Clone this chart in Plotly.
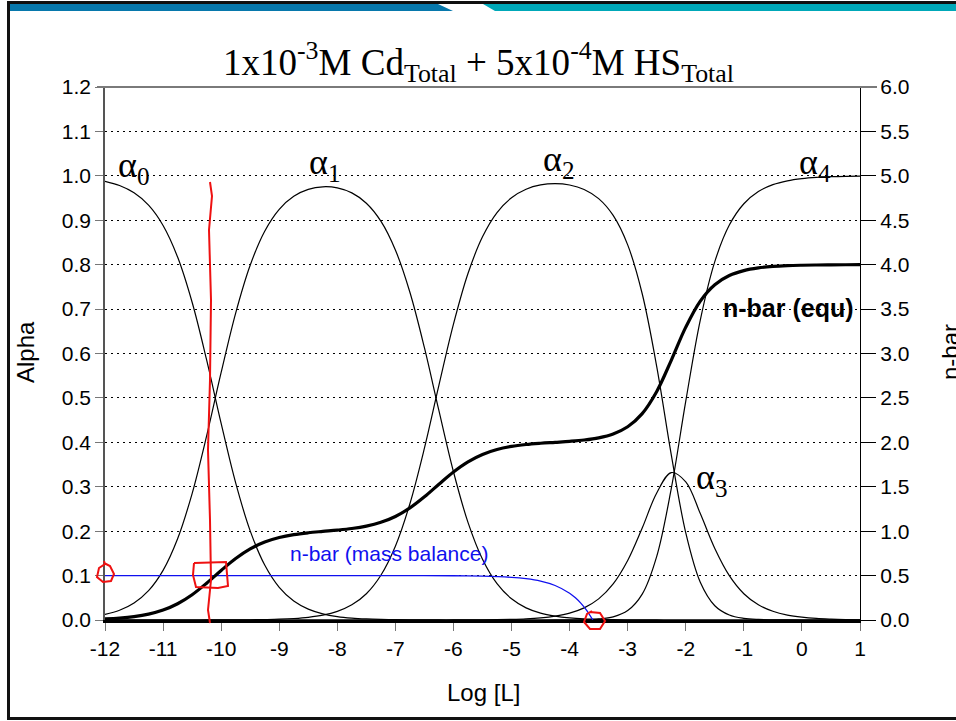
import plotly.graph_objects as go

# ---------------- data ----------------
LOGL = [-12, -11.75, -11.5, -11.25, -11, -10.75, -10.5, -10.25, -10,
        -9.75, -9.5, -9.25, -9, -8.75, -8.5, -8.25, -8,
        -7.75, -7.5, -7.25, -7, -6.75, -6.5, -6.25, -6,
        -5.75, -5.5, -5.25, -5, -4.75, -4.5, -4.25, -4,
        -3.75, -3.5, -3.25, -3, -2.75, -2.5, -2.25, -2,
        -1.75, -1.5, -1.25, -1, -0.75, -0.5, -0.25, 0,
        0.25, 0.5, 0.75, 1]

ALPHA0 = [.9876, .9781, .9617, .9339, .8882, .8171, .7153, .5855, .4426,
          .3087, .2007, .1237, .0735, .0426, .0244, .0138, .0077,
          .0043, .0024, .0013, .0007, .0003, .0002, .0001, 0,
          0, 0, 0, 0, 0, 0, 0, 0,
          0, 0, 0, 0, 0, 0, 0, 0,
          0, 0, 0, 0, 0, 0, 0, 0,
          0, 0, 0, 0]
ALPHA1 = [.0124, .0219, .0383, .0661, .1118, .1829, .2847, .4145, .5573,
          .6911, .7988, .8754, .9247, .9540, .9695, .9753, .9729,
          .9616, .9384, .8980, .8331, .7379, .6130, .4712, .3338,
          .2198, .1368, .0818, .0477, .0273, .0155, .0088, .0049,
          .0027, .0015, .0008, .0004, .0002, .0001, 0, 0,
          0, 0, 0, 0, 0, 0, 0, 0,
          0, 0, 0, 0]
ALPHA2 = [0, 0, 0, 0, 0, 0, 0, .0001, .0001,
          .0002, .0005, .0010, .0018, .0034, .0061, .0109, .0194,
          .0341, .0592, .1008, .1662, .2618, .3868, .5287, .6660,
          .7800, .8628, .9174, .9508, .9699, .9795, .9824, .9793,
          .9692, .9486, .9108, .8445, .7345, .5706, .3724, .1962,
          .0850, .0321, .0112, .0037, .0012, .0004, .0001, 0,
          0, 0, 0, 0]
ALPHA3 = [0, 0, 0, 0, 0, 0, 0, 0, 0,
          0, 0, 0, 0, 0, 0, 0, 0,
          0, 0, 0, 0, 0, 0, 0, .0001,
          .0002, .0004, .0008, .0015, .0027, .0049, .0088, .0155,
          .0273, .0475, .0812, .1339, .2070, .2860, .3319, .3110,
          .2396, .1610, .0998, .0591, .0342, .0196, .0111, .0063,
          .0035, .0020, .0011, .0006]
ALPHA4 = [0, 0, 0, 0, 0, 0, 0, 0, 0,
          0, 0, 0, 0, 0, 0, 0, 0,
          0, 0, 0, 0, 0, 0, 0, 0,
          0, 0, 0, 0, 0, 0, .0001, .0002,
          .0008, .0024, .0072, .0212, .0583, .1433, .2958, .4928,
          .6754, .8069, .8891, .9371, .9646, .9801, .9888, .9937,
          .9965, .9980, .9989, .9994]
NBAR_EQU = [.0124, .0219, .0383, .0661, .1118, .1829, .2848, .4146, .5575,
            .6916, .7999, .8773, .9284, .9608, .9818, .9972, 1.0117,
            1.0298, 1.0569, 1.0995, 1.1656, 1.2615, 1.3867, 1.5287, 1.6662,
            1.7804, 1.8637, 1.9190, 1.9539, 1.9754, 1.9894, 2.0002, 2.0111,
            2.0261, 2.0508, 2.0948, 2.1759, 2.3235, 2.5726, 2.9234, 3.2966,
            3.5903, 3.7748, 3.8779, 3.9334, 3.9634, 3.9797, 3.9887, 3.9937,
            3.9965, 3.9980, 3.9989, 3.9994]

MB_LOGL = [-12, -11, -10, -9, -8, -7, -6, -5.5, -5, -4.75, -4.5, -4.25, -4, -3.9, -3.8, -3.7, -3.6]
MB_NBAR = [.5, .5, .5, .5, .5, .4998, .498, .4937, .4801, .4646, .4371, .3881, .3010,
           .2495, .1846, .1030, 0]

ALPHA_TICKS = [0.0, 0.1, 0.2, 0.3, 0.4, 0.5, 0.6, 0.7, 0.8, 0.9, 1.0, 1.1, 1.2]
NBAR_TICKS = [0.0, 0.5, 1.0, 1.5, 2.0, 2.5, 3.0, 3.5, 4.0, 4.5, 5.0, 5.5, 6.0]
X_TICKS = [-12, -11, -10, -9, -8, -7, -6, -5, -4, -3, -2, -1, 0, 1]
X_TICKTEXT = ["-12", "-11", "-10", "-9", "-8", "-7", "-6", "-5", "-4", "-3", "-2", "-1", "0", "1"]

# ---------------- layout geometry ----------------
W, H = 956, 721
L, R, T, B = 105, 96, 87, 101
PW, PH = W - L - R, H - T - B


def px(x):
    return (x - L) / PW


def py(y):
    return (H - B - y) / PH


def path_px(points, close=False):
    s = "M " + " L ".join(f"{px(a):.5f},{py(b):.5f}" for a, b in points)
    return s + (" Z" if close else "")


SANS = "Arial, Liberation Sans, sans-serif"
SERIF = "Times New Roman, Liberation Serif, serif"
DOT = "1.5px,4.5px"

fig = go.Figure()
for ys in (ALPHA0, ALPHA1, ALPHA2, ALPHA3, ALPHA4):
    fig.add_trace(go.Scatter(x=LOGL, y=ys, mode="lines", line=dict(color="black", width=1.2,
                             shape="spline", smoothing=1.0), hoverinfo="skip", showlegend=False))
fig.add_trace(go.Scatter(x=MB_LOGL, y=MB_NBAR, yaxis="y2", mode="lines",
                         line=dict(color="#1010ee", width=1.3, shape="spline", smoothing=0.6),
                         showlegend=False))
fig.add_trace(go.Scatter(x=LOGL, y=NBAR_EQU, yaxis="y2", mode="lines",
                         line=dict(color="black", width=3.2, shape="spline", smoothing=1.0),
                         showlegend=False))

shapes = []
# slide frame and banner
shapes.append(dict(type="path", xref="paper", yref="paper", layer="above",
                   path=path_px([(7, 1), (956, 1), (956, 4), (7, 4)], True),
                   fillcolor="#101010", line=dict(width=0)))
shapes.append(dict(type="path", xref="paper", yref="paper", layer="above",
                   path=path_px([(7, 4), (438, 4), (453, 11), (7, 11)], True),
                   fillcolor="#0778ac", line=dict(width=0)))
shapes.append(dict(type="path", xref="paper", yref="paper", layer="above",
                   path=path_px([(483, 4), (956, 4), (956, 11), (495, 11)], True),
                   fillcolor="#00a8b8", line=dict(width=0)))
shapes.append(dict(type="path", xref="paper", yref="paper", layer="above",
                   path=path_px([(7, 1), (10, 1), (10, 720), (7, 720)], True),
                   fillcolor="#111111", line=dict(width=0)))
shapes.append(dict(type="path", xref="paper", yref="paper", layer="above",
                   path=path_px([(7, 717), (956, 717), (956, 720), (7, 720)], True),
                   fillcolor="#111111", line=dict(width=0)))
# top border of plot
shapes.append(dict(type="line", xref="paper", yref="paper", x0=px(97), x1=px(877), y0=1, y1=1,
                   line=dict(color="#7a7a7a", width=2), layer="above"))
# red hand-drawn marks
red = dict(color="#ee1111", width=2)
shapes.append(dict(type="path", xref="paper", yref="paper", layer="above", line=red,
                   path=path_px([(210, 182), (212, 196), (209, 230), (211, 300), (210, 380),
                                 (208, 450), (210, 520), (211, 580), (208, 610), (210, 623)])))
shapes.append(dict(type="path", xref="paper", yref="paper", layer="above", line=red,
                   path=path_px([(104, 563), (110, 566), (114, 574), (111, 581), (103, 582),
                                 (97, 577), (99, 568), (105, 564), (104, 561)])))
shapes.append(dict(type="path", xref="paper", yref="paper", layer="above", line=red,
                   path=path_px([(194, 563), (226, 562), (228, 586), (218, 588), (196, 587),
                                 (193, 575), (194, 563)])))
shapes.append(dict(type="path", xref="paper", yref="paper", layer="above", line=red,
                   path=path_px([(590, 612), (600, 613), (605, 621), (600, 629), (590, 629),
                                 (584, 622), (587, 614), (592, 611)])))


def note(text, x, y, font, xanchor="center", yanchor="middle", **kw):
    return dict(text=text, xref="paper", yref="paper", x=px(x), y=py(y), showarrow=False,
                xanchor=xanchor, yanchor=yanchor, font=font, **kw)


annotations = [
    note("1x10<sup>-3</sup>M Cd<sub>Total</sub> + 5x10<sup>-4</sup>M HS<sub>Total</sub>",
         478, 34, dict(family=SERIF, size=37, color="black"), yanchor="top"),
    note("Alpha", 25, 352, dict(family=SANS, size=24, color="black"), textangle=-90),
    note("Log [L]", 483, 692, dict(family=SANS, size=24, color="black")),
    note("n-bar", 950, 352, dict(family=SANS, size=24, color="black"), textangle=-90),
    note("<b>n-bar (equ)</b>", 856, 308, dict(family=SANS, size=25, color="black"),
         xanchor="right"),
    note("n-bar (mass balance)", 389, 553, dict(family=SANS, size=21, color="#1010ee")),
]
for lab, (xx, yy) in {"α<sub>0</sub>": (116, 167), "α<sub>1</sub>": (307, 164),
                      "α<sub>2</sub>": (541, 161), "α<sub>3</sub>": (694, 479),
                      "α<sub>4</sub>": (797, 164)}.items():
    annotations.append(note(lab, xx, yy, dict(family=SERIF, size=36, color="black"),
                            xanchor="left"))

fig.update_layout(
    width=W, height=H, margin=dict(l=L, r=R, t=T, b=B, pad=0),
    paper_bgcolor="white", plot_bgcolor="white", showlegend=False,
    font=dict(family=SANS, size=21, color="black"),
    xaxis=dict(range=[-12, 1], tickvals=X_TICKS, ticktext=X_TICKTEXT, ticks="outside", ticklen=8,
               tickcolor="#777", showline=True, linecolor="black", linewidth=2.5, showgrid=False,
               zeroline=False, tickfont=dict(family=SANS, size=21), fixedrange=True),
    yaxis=dict(range=[0, 1.2], tickvals=ALPHA_TICKS, tickformat=".1f", ticks="outside",
               ticklen=8, tickcolor="#777", showline=True, linecolor="#555", linewidth=1.5,
               showgrid=True, gridcolor="black", griddash=DOT, gridwidth=1, zeroline=False,
               tickfont=dict(family=SANS, size=21)),
    yaxis2=dict(range=[0, 6], tickvals=NBAR_TICKS, tickformat=".1f", overlaying="y", side="right",
                ticks="outside", ticklen=15, tickcolor="black", showline=True, linecolor="black",
                linewidth=1.2, showgrid=False, zeroline=False, tickfont=dict(family=SANS, size=21)),
    shapes=shapes, annotations=annotations,
)

fig.write_html("out.html", config={"displayModeBar": False})
